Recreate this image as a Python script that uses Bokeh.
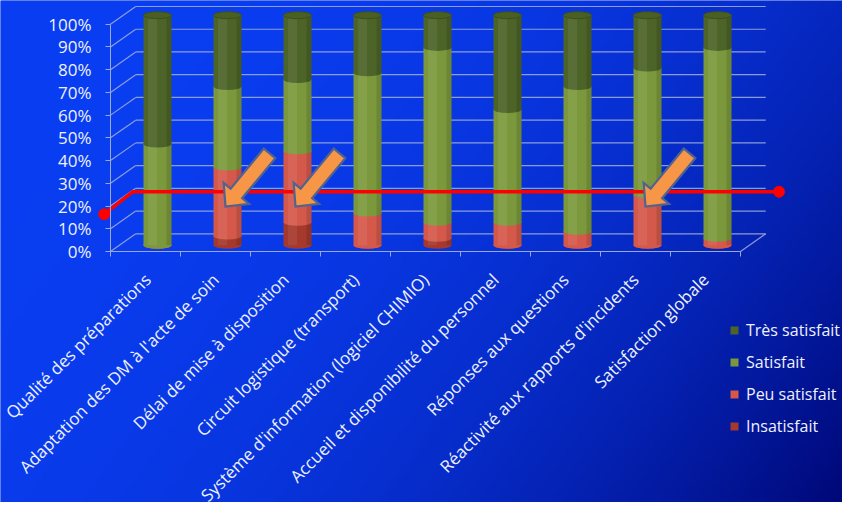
import numpy as np
from bokeh.plotting import figure
from bokeh.models import (Range1d, FixedTicker, PrintfTickFormatter, Legend, LegendItem)
from bokeh.embed import file_html
from bokeh.resources import INLINE

# ---------------- data ----------------
categories = [
    "Qualité des préparations",
    "Adaptation des DM à l'acte de soin",
    "Délai de mise à disposition",
    "Circuit logistique (transport)",
    "Système d'information (logiciel CHIMIO)",
    "Accueil et disponibilité du personnel",
    "Réponses aux questions",
    "Réactivité aux rapports d'incidents",
    "Satisfaction globale",
]
insatisfait    = [0, 4, 10, 0, 3, 0, 0, 0, 0]
peu_satisfait  = [0, 30, 31, 14, 7, 10, 6, 22, 3]
satisfait      = [44, 35, 31, 61, 76, 49, 63, 55, 83]
tres_satisfait = [56, 31, 28, 25, 14, 41, 31, 23, 14]

series_names = ["Insatisfait", "Peu satisfait", "Satisfait", "Très satisfait"]
series_values = [insatisfait, peu_satisfait, satisfait, tres_satisfait]
series_colors = ["#a5392d", "#d4594b", "#7b993c", "#4d6428"]

y_ticks = [0, 10, 20, 30, 40, 50, 60, 70, 80, 90, 100]

# target line (seuil) and alerts
seuil_x = [-0.09, 0.32, 9.55]
seuil_y = [16.4, 26.3, 26.3]
alertes = ["Adaptation des DM à l'acte de soin",
           "Délai de mise à disposition",
           "Réactivité aux rapports d'incidents"]
niveau_alerte = 19.8

# ---------------- styling ----------------
GRID = "#9aa8dc"
TXT = "#eef1ff"
FONT = "Open Sans"
W, H = 842, 502
X0PX, Y0PX = 110, 251      # position of (0, 0%) inside the canvas
PX_X = 70.0                # px per category
PX_Y = 227.3 / 100         # px per percent (axis)
PX_B = 230.0 / 100         # px per percent (bars, mid depth)
B0PX = Y0PX - 6.3          # bars baseline (mid depth)
DX = 0.36                  # depth offset (categories)
DY = 17.7 / PX_Y           # depth offset (percent)
n = len(categories)

xr = Range1d(-X0PX / PX_X, (W - X0PX) / PX_X)
yr = Range1d(-(H - Y0PX) / PX_Y, Y0PX / PX_Y)
p = figure(width=W, height=H, output_backend="svg", toolbar_location=None,
           x_range=xr, y_range=yr,
           min_border_left=0, min_border_right=0, min_border_top=0, min_border_bottom=0,
           background_fill_color="#0735dc", border_fill_color="#0735dc",
           outline_line_color=None)
p.extra_y_ranges = {"bars": Range1d(-(H - B0PX) / PX_B, B0PX / PX_B)}
p.xgrid.visible = False
p.ygrid.visible = False

# background gradient (style only)
gw, gh = 220, 130
gxn = np.linspace(0, 1, gw)[None, :]
gyn = np.linspace(1, 0, gh)[:, None]   # row 0 = bottom
t = np.clip(0.7 * gxn + 0.3 * gyn, 0, 1) ** 2.5
c0 = np.array([10, 62, 242]); c1 = np.array([0, 8, 120])
img = np.empty((gh, gw), dtype=np.uint32)
view = img.view(dtype=np.uint8).reshape((gh, gw, 4))
for k in range(3):
    view[:, :, k] = (c0[k] + (c1[k] - c0[k]) * t).astype(np.uint8)
view[:, :, 3] = 255
p.image_rgba(image=[img], x=xr.start, y=yr.start, dw=xr.end - xr.start,
             dh=yr.end - yr.start, level="image")

# 3D-style grid (walls)
gx0, gy0, gx1, gy1 = [], [], [], []
for v in y_ticks:
    gx0 += [0, DX]; gy0 += [v, v + DY]
    gx1 += [DX, n + DX]; gy1 += [v + DY, v + DY]
gx0.append(n); gy0.append(0); gx1.append(n + DX); gy1.append(DY)
p.segment(gx0, gy0, gx1, gy1, line_color=GRID, line_width=1.2, line_alpha=0.9)

# cylinders
xs = np.arange(n) + 0.5 + 12 / PX_X
bw = 28 / PX_X
eh = 7 / PX_B
bottom = np.zeros(n)
rends = {}
for name, vals, col in zip(series_names, series_values, series_colors):
    top = bottom + np.array(vals, dtype=float)
    r = p.vbar(x=xs, bottom=bottom, top=top, width=bw, fill_color=col,
               line_color=None, y_range_name="bars")
    p.ellipse(x=xs, y=bottom, width=bw, height=eh, fill_color=col,
              line_color=None, y_range_name="bars")
    rends[name] = r
    bottom = top
# shading
p.vbar(x=xs - 5 / PX_X, bottom=0, top=bottom, width=9 / PX_X, fill_color="white",
       fill_alpha=0.07, line_color=None, y_range_name="bars")
p.vbar(x=xs + 11.5 / PX_X, bottom=0, top=bottom, width=5 / PX_X, fill_color="black",
       fill_alpha=0.12, line_color=None, y_range_name="bars")
p.ellipse(x=xs, y=bottom, width=bw, height=eh, fill_color="#4a5f24",
          line_color="#3c4f1c", line_width=1, y_range_name="bars")

# seuil line
p.line(seuil_x, seuil_y, line_color="#ff0000", line_width=3.5)
p.scatter([seuil_x[0], seuil_x[-1]], [seuil_y[0], seuil_y[-1]], size=11,
          fill_color="#ff0000", line_color="#ff0000")

# arrows
u = np.array([44.0, 53.0]); u /= np.linalg.norm(u)
nv = np.array([-u[1], u[0]])
shape = [0 * u, 17 * u + 16.5 * nv, 17 * u + 7.5 * nv, 69 * u + 7.5 * nv,
         69 * u - 7.5 * nv, 17 * u - 7.5 * nv, 17 * u - 16.5 * nv]
axs, ays = [], []
for a in alertes:
    i = categories.index(a)
    tx = i + 0.5 + 10 / PX_X
    axs.append([tx + s[0] / PX_X for s in shape])
    ays.append([niveau_alerte + s[1] / PX_Y for s in shape])
p.patches(axs, ays, fill_color="#f79646", line_color="#51648f", line_width=2.2,
          line_join="miter")

# axes (drawn inside the canvas at fixed positions)
xa = p.xaxis[0]
xa.fixed_location = 0
xa.ticker = FixedTicker(ticks=[i + 0.5 for i in range(n)], minor_ticks=list(range(n + 1)))
xa.major_label_overrides = {i + 0.5: c for i, c in enumerate(categories)}
xa.major_label_orientation = np.pi / 4
xa.bounds = (0, n)
xa.major_tick_line_color = None
xa.major_tick_out = 0
xa.major_tick_in = 0
xa.minor_tick_line_color = GRID
xa.minor_tick_out = 5
xa.minor_tick_in = 0
xa.axis_line_color = GRID
xa.major_label_text_color = TXT
xa.major_label_text_font = FONT
xa.major_label_text_font_size = "17px"
xa.major_label_standoff = 20

ya = p.yaxis[0]
ya.fixed_location = 0
ya.ticker = FixedTicker(ticks=y_ticks, minor_ticks=[])
ya.formatter = PrintfTickFormatter(format="%d%%")
ya.bounds = (0, 100)
ya.major_tick_line_color = GRID
ya.major_tick_out = 5
ya.major_tick_in = 0
ya.axis_line_color = GRID
ya.major_label_text_color = TXT
ya.major_label_text_font = FONT
ya.major_label_text_font_size = "17px"
ya.major_label_standoff = 14

legend = Legend(items=[LegendItem(label=nm, renderers=[rends[nm]])
                       for nm in reversed(series_names)],
                location=(729, 65), label_text_font=FONT,
                label_text_font_size="16px", label_text_color=TXT,
                glyph_width=10, glyph_height=10, label_standoff=7,
                spacing=10, padding=0, margin=0, label_height=22,
                background_fill_alpha=0, border_line_alpha=0)
p.add_layout(legend)

open("out.html", "w").write(file_html(p, INLINE))
